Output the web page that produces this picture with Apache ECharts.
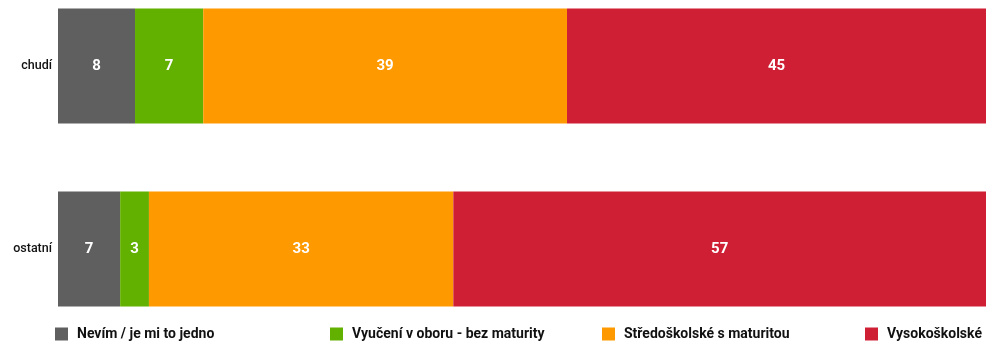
<!DOCTYPE html>
<html><head><meta charset="utf-8">
<script src="https://cdn.jsdelivr.net/npm/echarts@6/dist/echarts.min.js"></script>
<style>html,body{margin:0;padding:0;background:#fff}#c{width:993px;height:356px}</style>
</head><body><div id="c"></div>
<script>
const categories = ['chudí', 'ostatní'];
const seriesNames = ['Nevím / je mi to jedno', 'Vyučení v oboru - bez maturity', 'Středoškolské s maturitou', 'Vysokoškolské'];
const nevim = [8.3, 6.7];
const vyuceni = [7.35, 3.1];
const stredo = [39.2, 32.8];
const vysoko = [45.15, 57.4];
const colors = ['#5f5f5f', '#62b000', '#ff9900', '#cf1f35'];
const values = [nevim, vyuceni, stredo, vysoko];
const legendX = [55, 330, 602, 865];

const chart = echarts.init(document.getElementById('c'));
chart.setOption({
  animation: false,
  grid: { left: 58, right: 7, top: 66, bottom: 107 },
  xAxis: { type: 'value', min: 0, max: 100, show: false },
  yAxis: {
    type: 'category', data: categories, inverse: true, boundaryGap: false,
    axisLine: { show: false }, axisTick: { show: false }, splitLine: { show: false },
    axisLabel: { color: '#111', fontFamily: 'Roboto', fontSize: 12.5, fontWeight: 500, margin: 6 }
  },
  legend: seriesNames.map((n, i) => ({
    data: [n], left: legendX[i], top: 327, padding: 0, itemWidth: 13, itemHeight: 13, itemGap: 0,
    icon: 'rect', selectedMode: false,
    textStyle: { fontFamily: 'Roboto', fontSize: 14, fontWeight: 'bold', color: '#111', padding: [0, 0, 0, 4] }
  })),
  series: seriesNames.map((n, i) => ({
    name: n, type: 'bar', stack: 'a', barWidth: 115,
    data: values[i], itemStyle: { color: colors[i] },
    label: {
      show: true, position: 'inside', color: '#fff', fontFamily: 'Roboto', fontSize: 15, fontWeight: 'bold',
      formatter: p => Math.round(p.value)
    }
  }))
});
</script></body></html>
